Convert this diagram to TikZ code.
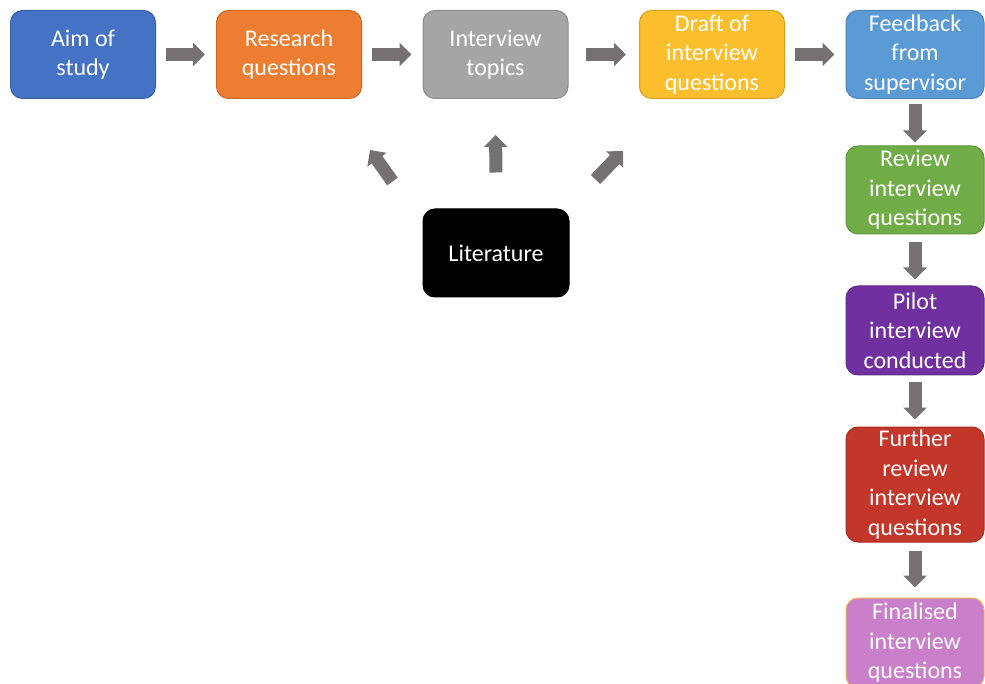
\documentclass[tikz,border=0pt]{standalone}
\usepackage{fontspec}
\setmainfont{Carlito}
\usetikzlibrary{arrows.meta,calc}
\definecolor{cAim}{HTML}{4472C4}
\definecolor{cRes}{HTML}{ED7D31}
\definecolor{cTop}{HTML}{A5A5A5}
\definecolor{cDra}{HTML}{FBBF2D}
\definecolor{cFee}{HTML}{5B9BD5}
\definecolor{cRev}{HTML}{70AD47}
\definecolor{cPil}{HTML}{7030A0}
\definecolor{cFur}{HTML}{C3362A}
\definecolor{cFin}{HTML}{C97FC9}
\definecolor{cArr}{HTML}{767171}
\tikzset{
  box/.style={rounded corners=12pt, inner sep=2pt, align=center, text=white,
    font=\fontsize{24}{29.5}\selectfont, line width=1pt},
  hbox/.style={box, minimum width=145pt, minimum height=88pt},
  vbox/.style={box, minimum width=138pt},
  blk/.style={cArr, line width=13pt, -{Triangle[width=23pt,length=12pt]}}
}
\begin{document}
\begin{tikzpicture}[x=1pt,y=-1pt]
\useasboundingbox (0,0) rectangle (985,684);
\node[hbox, fill=cAim, draw=cAim!85!black] (aim) at (83,54.5) {Aim of\\study};
\node[hbox, fill=cRes, draw=cRes!85!black] (rq) at (289,54.5) {Research\\questions};
\node[hbox, fill=cTop, draw=cTop!85!black] (it) at (495.5,54.5) {Interview\\topics};
\node[hbox, fill=cDra, draw=cDra!85!black] (dr) at (712,54.5) {Draft of\\interview\\questions};
\node[vbox, minimum height=88pt, fill=cFee, draw=cFee!85!black] (fb) at (915,54.5) {Feedback\\from\\supervisor};
\node[vbox, minimum height=88pt, fill=cRev, draw=cRev!85!black] (rv) at (915,190) {Review\\interview\\questions};
\node[vbox, minimum height=89pt, fill=cPil, draw=cPil!85!black] (pi) at (915,330.5) {Pilot\\interview\\conducted};
\node[vbox, minimum height=115pt, fill=cFur, draw=cFur!85!black] (fu) at (915,484.5) {Further\\review\\interview\\questions};
\node[vbox, minimum height=90pt, fill=cFin, draw=cDra!80!cFin] (fi) at (915,643) {Finalised\\interview\\questions};
\node[hbox, minimum width=146pt, fill=black, draw=black] (lit) at (496,253) {Literature};

\draw[blk, shorten <=10pt, shorten >=11pt] (aim.east) -- (rq.west);
\draw[blk, shorten <=10pt, shorten >=11pt] (rq.east) -- (it.west);
\draw[blk, shorten <=17pt, shorten >=13pt] (it.east) -- (dr.west);
\draw[blk, shorten <=10pt, shorten >=11pt] (dr.east) -- (fb.west);

\draw[blk, shorten <=5pt, shorten >=3pt] (fb.south) -- (rv.north);
\draw[blk, shorten <=8pt, shorten >=6pt] (rv.south) -- (pi.north);
\draw[blk, shorten <=7pt, shorten >=7pt] (pi.south) -- (fu.north);
\draw[blk, shorten <=8pt, shorten >=10pt] (fu.south) -- (fi.north);

\draw[blk, shorten <=36pt, shorten >=36pt] (lit.north) -- (it.south);
\draw[blk] ($(lit.north west)+(-30,-27)$) -- ($(rq.south east)+(8,51)$);
\draw[blk] ($(lit.north east)+(26,-29)$) -- ($(dr.south west)+(-16,52)$);
\end{tikzpicture}
\end{document}
